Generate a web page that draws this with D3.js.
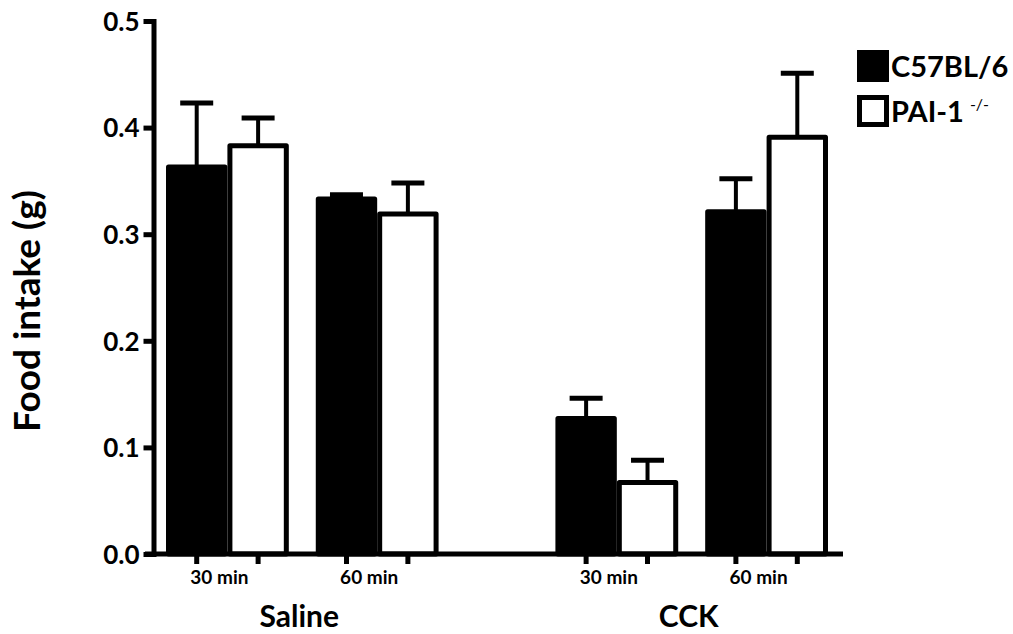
<!DOCTYPE html>
<html>
<head>
<meta charset="utf-8">
<script src="https://cdn.jsdelivr.net/npm/d3@7"></script>
<style>
  body { margin: 0; background: #fff; }
  svg { display: block; }
  text { font-family: Lato, "Open Sans", sans-serif; font-weight: 700; fill: #000; }
</style>
</head>
<body>
<svg id="chart" width="1013" height="634"></svg>
<script>
// Food intake (g), mean with upper SEM bar, by treatment, time point and strain
const treatments = ["Saline", "CCK"];
const timepoints = ["30 min", "60 min"];
const strains = ["C57BL/6", "PAI-1"];
const c57Mean = [0.363, 0.333, 0.127, 0.321];
const c57Sem  = [0.060, 0.004, 0.019, 0.031];
const paiMean = [0.383, 0.319, 0.067, 0.391];
const paiSem  = [0.026, 0.029, 0.021, 0.060];
const yTicks = [0, 0.1, 0.2, 0.3, 0.4, 0.5];

const rows = [];
c57Mean.forEach((m, i) => {
  const treatment = treatments[Math.floor(i / 2)], time = timepoints[i % 2];
  rows.push({ treatment, time, strain: strains[0], mean: m, sem: c57Sem[i] });
  rows.push({ treatment, time, strain: strains[1], mean: paiMean[i], sem: paiSem[i] });
});

const svg = d3.select("#chart");
const SW = 5; // outline width of bars and axes

const x0 = d3.scaleBand().domain(treatments).range([166, 828]).paddingInner(0.3);
const x1 = d3.scaleBand().domain(timepoints).range([0, x0.bandwidth()]).paddingInner(0.18);
const x2 = d3.scaleBand().domain(strains).range([0, x1.bandwidth()]);
const y = d3.scaleLinear().domain([0, 0.5]).range([554, 21]);

const left = d => x0(d.treatment) + x1(d.time) + x2(d.strain);
const center = d => left(d) + x2.bandwidth() / 2;

// error bars (upper only)
const err = svg.append("g").attr("stroke", "#000");
err.selectAll("line.stem").data(rows).join("line")
  .attr("x1", center).attr("x2", center)
  .attr("y1", d => y(d.mean)).attr("y2", d => y(d.mean + d.sem))
  .attr("stroke-width", 4);
err.selectAll("line.cap").data(rows).join("line")
  .attr("x1", d => center(d) - 16.5).attr("x2", d => center(d) + 16.5)
  .attr("y1", d => y(d.mean + d.sem)).attr("y2", d => y(d.mean + d.sem))
  .attr("stroke-width", SW);

// bars
svg.append("g").selectAll("rect").data(rows).join("rect")
  .attr("x", d => left(d) + SW / 2)
  .attr("width", x2.bandwidth() - SW)
  .attr("y", d => y(d.mean))
  .attr("height", d => y(0) - y(d.mean))
  .attr("fill", d => d.strain === strains[0] ? "#000" : "#fff")
  .attr("stroke", "#000").attr("stroke-width", SW)
  .attr("stroke-linejoin", "round");

// y axis
const yAxis = svg.append("g").attr("transform", "translate(153.5,0)")
  .call(d3.axisLeft(y).tickValues(yTicks).tickFormat(d3.format(".1f"))
    .tickSize(10).tickSizeOuter(0).tickPadding(4));
yAxis.select(".domain").attr("stroke-width", SW).attr("stroke-linecap", "square");
yAxis.selectAll(".tick line").attr("stroke-width", SW);
yAxis.selectAll(".tick text").style("font-size", "26px").attr("dy", "0.36em");

// x axis line and ticks at bar centres
svg.append("line").attr("x1", 145).attr("x2", 843).attr("y1", y(0)).attr("y2", y(0))
  .attr("stroke", "#000").attr("stroke-width", SW);
svg.append("g").selectAll("line").data(rows).join("line")
  .attr("x1", center).attr("x2", center)
  .attr("y1", y(0)).attr("y2", y(0) + 10)
  .attr("stroke", "#000").attr("stroke-width", SW);

// time labels
const timeCells = treatments.flatMap(t => timepoints.map(p => ({ t, p })));
svg.append("g").selectAll("text").data(timeCells).join("text")
  .attr("x", d => x0(d.t) + x1(d.p) + x1.bandwidth() / 2 - 8)
  .attr("y", 584)
  .attr("text-anchor", "middle")
  .style("font-size", "19px")
  .text(d => d.p);

// treatment labels
svg.append("g").selectAll("text").data(treatments).join("text")
  .attr("x", d => x0(d) + x0.bandwidth() / 2 - 3)
  .attr("y", 627)
  .attr("text-anchor", "middle")
  .style("font-size", "30px")
  .text(d => d);

// y title
svg.append("text")
  .attr("transform", "translate(40,311) rotate(-90)")
  .attr("text-anchor", "middle")
  .style("font-size", "37px")
  .text("Food intake (g)");

// legend
const legend = svg.append("g").attr("transform", "translate(857,50)");
strains.forEach((s, i) => {
  const g = legend.append("g").attr("transform", `translate(0,${i * 45})`);
  g.append("rect").attr("x", SW / 2).attr("y", SW / 2)
    .attr("width", 32 - SW).attr("height", 32 - SW)
    .attr("fill", i === 0 ? "#000" : "#fff")
    .attr("stroke", "#000").attr("stroke-width", SW);
  const t = g.append("text").attr("x", 34).attr("y", 27).style("font-size", "29px").text(s);
  if (i === 1) {
    t.append("tspan").attr("dx", 6).attr("dy", -12).style("font-size", "16px").style("font-weight", 400).text("-/-");
  }
});
</script>
</body>
</html>
